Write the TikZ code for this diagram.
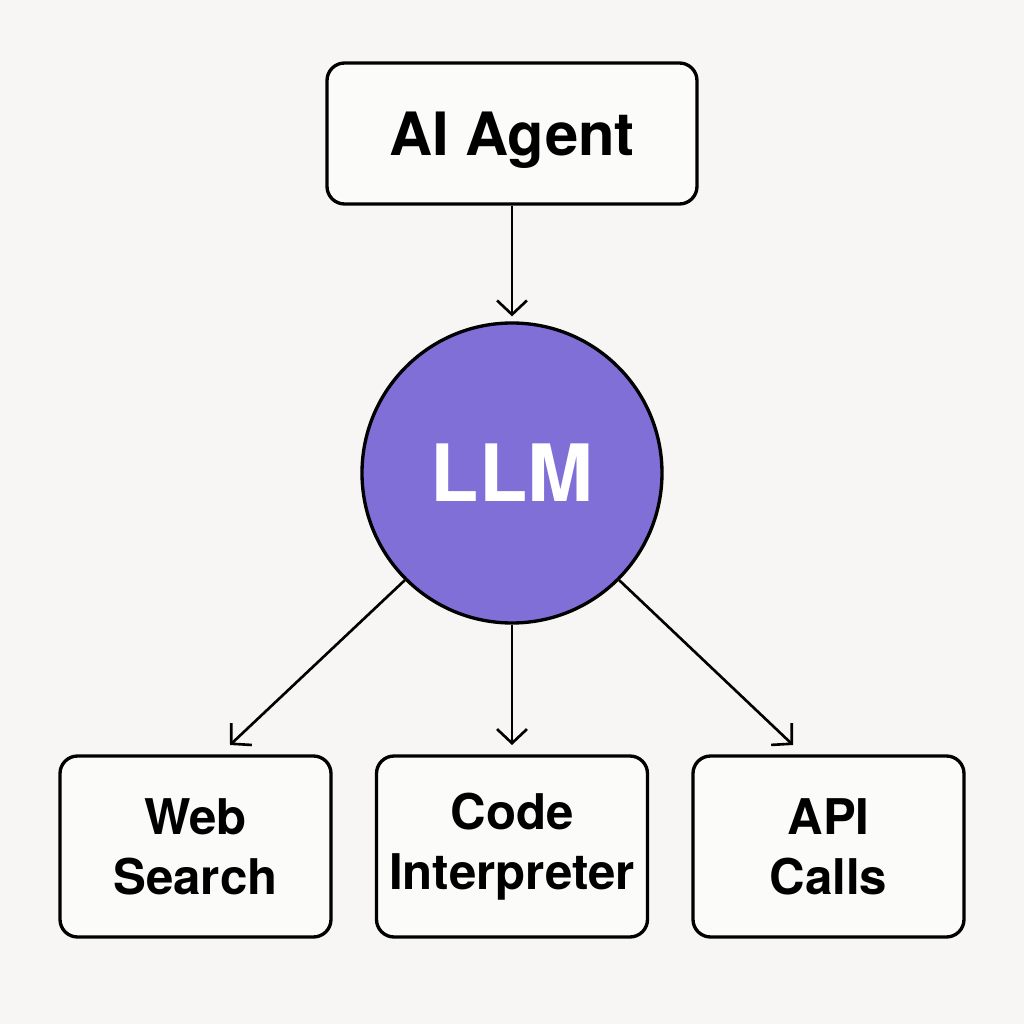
\documentclass[tikz,border=0pt]{standalone}
\usepackage{fontspec}
\setmainfont{TeX Gyre Heros}
\usepackage{xcolor}
\usepackage{tikz}
\usetikzlibrary{arrows.meta}

\definecolor{paper}{HTML}{F7F6F4}
\definecolor{boxfill}{HTML}{FBFBFA}
\definecolor{llmpurple}{HTML}{7F6FD6}

\begin{document}
\begin{tikzpicture}[
    box/.style={draw, line width=0.95pt, rounded corners=5pt, fill=boxfill,
        align=center, font=\fontsize{14}{17}\selectfont\bfseries, inner sep=0pt},
    toolbox/.style={box, minimum width=2.71cm, minimum height=1.81cm},
    link/.style={line width=0.75pt, -{Straight Barb[length=4pt, width=8.5pt, line width=0.75pt]}}
  ]
    % page and margins
    \fill[paper] (0,0) rectangle (10.24,10.24);
    \useasboundingbox (0,0) rectangle (10.24,10.24);

    \node[box, minimum width=3.7cm, minimum height=1.41cm, text depth=0pt,
          font=\fontsize{17}{20}\selectfont\bfseries] (agent) at (5.12, 8.905) {AI Agent};

    \node[circle, draw, line width=0.95pt, fill=llmpurple, minimum size=3cm,
          text=white, font=\fontsize{22.5}{24}\selectfont\bfseries] (llm) at (5.12, 5.51) {LLM};

    \node[toolbox] (web) at (1.955, 1.775) {Web\\Search};
    \node[toolbox] (code) at (5.12, 1.775) {Code\\Interpreter};
    \node[toolbox] (api) at (8.285, 1.775) {API\\Calls};

    \coordinate (tipW) at (2.30, 2.79);
    \coordinate (tipC) at (5.12, 2.79);
    \coordinate (tipA) at (7.93, 2.79);

    \draw[link, shorten >=0.05cm] (agent) -- (llm);
    \foreach \from/\to in {llm.225/tipW, llm.south/tipC, llm.315/tipA}{
        \draw[link] (\from) -- (\to);
    }
\end{tikzpicture}
\end{document}
